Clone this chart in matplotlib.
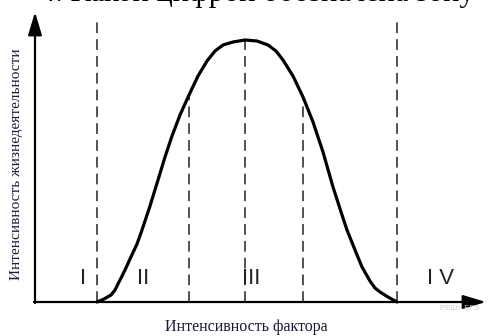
import matplotlib
matplotlib.use("Agg")
import matplotlib.pyplot as plt

# Curve of tolerance (factor intensity vs. vitality)
factor = [97, 104, 111, 115, 120, 125, 130, 137, 142, 150, 158, 165, 172, 180, 189,
          198, 207, 215, 223, 233, 245, 257, 268, 276, 283, 293, 303, 313, 323,
          333, 343, 347, 355, 362, 370, 375, 380, 388, 397]
vitality = [0, 3, 7, 12, 22, 32, 43, 58, 72, 96, 122, 145, 166, 187, 207,
            226, 241, 251, 257, 260, 262, 261, 257, 251, 242, 226, 205, 180, 150,
            115, 84, 72, 52, 35, 21, 14, 10, 5, 0]

# Zone boundaries (dashed verticals) and their top heights
bounds = [97, 189, 245, 303, 397]
bound_tops = [285, 207, 262, 205, 285]

zone_labels = ["I", "II", "III", "I V"]
zone_x = [83, 143, 251, 441]
zone_y = [24, 24, 24, 24]

x_label = "Интенсивность фактора"
y_label = "Интенсивность жизнедеятельности"
title_text = "4. Какой цифрой обозначена зону"

fig = plt.figure(figsize=(4.88, 3.36), dpi=100)
ax = fig.add_axes([0, 0, 1, 1])
ax.set_xlim(0, 488)
ax.set_ylim(-34, 302)
ax.axis("off")

# axes with arrows
ax.annotate("", xy=(35, 290), xytext=(35, -1),
            arrowprops=dict(arrowstyle="-|>,head_length=1.0,head_width=0.3",
                            lw=1.6, color="black", mutation_scale=14,
                            shrinkA=0, shrinkB=0))
ax.annotate("", xy=(486, 0), xytext=(34, 0),
            arrowprops=dict(arrowstyle="-|>,head_length=1.0,head_width=0.3",
                            lw=1.6, color="black", mutation_scale=14,
                            shrinkA=0, shrinkB=0))

# dashed zone boundaries
for bx, top in zip(bounds, bound_tops):
    ax.plot([bx, bx], [0, top], color="#222222", lw=1.1,
            dashes=(7, 4), solid_capstyle="butt")

# the curve
ax.plot(factor, vitality, color="black", lw=2.3, solid_joinstyle="round",
        solid_capstyle="round")

# zone labels
for lab, lx, ly in zip(zone_labels, zone_x, zone_y):
    ax.text(lx, ly, lab, ha="center", va="center", fontsize=16,
            family="Liberation Sans", color="#222222")

# axis labels
ax.text(246, -25, x_label, ha="center", va="center", fontsize=11.5,
        family="Liberation Serif", color="#1a1a33")
ax.text(17, 138, y_label, ha="center", va="center", rotation=90,
        fontsize=11, family="Liberation Serif", color="#1a1a33")

# header text, clipped by the top edge as in the reference
ax.text(40, 300.5, title_text, ha="left", va="baseline", fontsize=22,
        family="Liberation Serif", color="black", clip_on=False)

# faint watermark
ax.text(460, -6, "РЕШУ ЕГЭ", ha="center", va="center", fontsize=5.5,
        family="Liberation Sans", color="#cccccc")

fig.savefig("out.png", dpi=100)
